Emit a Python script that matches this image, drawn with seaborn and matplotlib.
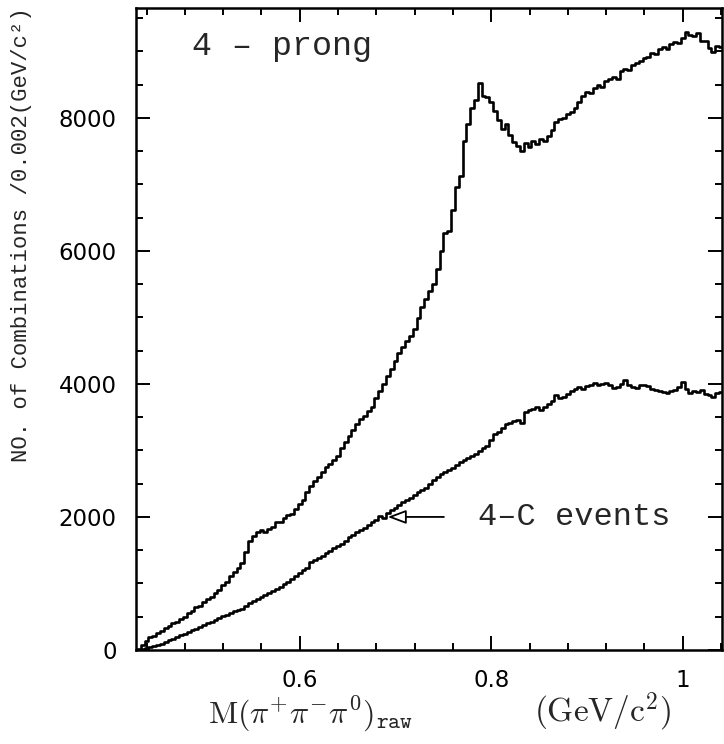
import numpy as np
import pandas as pd
import seaborn as sns
import matplotlib
matplotlib.use("Agg")
import matplotlib.pyplot as plt
from matplotlib.ticker import MultipleLocator

# Histogram contents (bins of 0.004 GeV starting at 0.430)
bin_start = 0.430
bin_width = 0.004

prong4 = [
    20, 80, 140, 190, 210, 260, 290, 330, 360, 400,
    420, 470, 500, 560, 590, 640, 660, 720, 760, 790,
    860, 900, 970, 1020, 1110, 1170, 1240, 1310, 1480, 1640,
    1720, 1770, 1800, 1770, 1820, 1850, 1930, 1920, 1990, 2030,
    2050, 2120, 2200, 2260, 2380, 2470, 2540, 2600, 2680, 2750,
    2790, 2860, 2920, 3040, 3130, 3210, 3300, 3400, 3470, 3510,
    3590, 3650, 3790, 3900, 4000, 4120, 4230, 4350, 4460, 4560,
    4640, 4720, 4830, 4990, 5150, 5280, 5390, 5500, 5720, 6000,
    6270, 6300, 6620, 6960, 7120, 7650, 7900, 8150, 8260, 8530,
    8330, 8310, 8230, 8100, 7960, 7830, 7900, 7740, 7640, 7580,
    7500, 7620, 7560, 7650, 7600, 7680, 7650, 7720, 7820, 7930,
    7980, 8000, 8050, 8090, 8150, 8240, 8330, 8390, 8370, 8440,
    8500, 8470, 8560, 8590, 8620, 8580, 8700, 8740, 8720, 8790,
    8820, 8850, 8900, 8920, 8980, 8960, 9030, 9060, 9040, 9110,
    9140, 9120, 9200, 9290, 9250, 9230, 9270, 9150, 9160, 9050,
    8990, 9080, 9060, 9000,
]

events_4c = [
    5, 15, 25, 40, 55, 70, 90, 120, 150, 170,
    200, 220, 240, 270, 300, 320, 350, 370, 400, 420,
    450, 480, 510, 530, 560, 580, 600, 620, 660, 700,
    730, 760, 790, 820, 850, 890, 920, 950, 990, 1020,
    1060, 1110, 1150, 1200, 1240, 1320, 1350, 1390, 1420, 1460,
    1490, 1530, 1560, 1600, 1640, 1700, 1730, 1770, 1800, 1830,
    1880, 1930, 1960, 2010, 1990, 2060, 2100, 2140, 2180, 2220,
    2260, 2290, 2330, 2370, 2410, 2440, 2500, 2560, 2600, 2640,
    2680, 2710, 2740, 2780, 2820, 2850, 2890, 2920, 2950, 2990,
    3030, 3060, 3150, 3250, 3280, 3330, 3390, 3410, 3440, 3460,
    3410, 3580, 3610, 3630, 3650, 3600, 3660, 3700, 3750, 3830,
    3790, 3810, 3850, 3900, 3930, 3950, 3920, 3970, 3990, 4010,
    3980, 4000, 4020, 3990, 3940, 3960, 4000, 4060, 3980, 3950,
    3940, 3980, 3990, 3970, 3930, 3910, 3900, 3880, 3870, 3900,
    3910, 3950, 4030, 3920, 3870, 3900, 3880, 3910, 3850, 3830,
    3800, 3860, 3880, 3850,
]

x_ticks = [0.6, 0.8, 1.0]
x_tick_labels = ["0.6", "0.8", "1"]
y_ticks = [0, 2000, 4000, 6000, 8000]

sns.set_theme(style="ticks")
plt.rcParams["font.family"] = ["DejaVu Sans"]
plt.rcParams["mathtext.fontset"] = "cm"

n_bins = len(prong4)
bin_end = bin_start + bin_width * n_bins
centers = bin_start + bin_width * (np.arange(n_bins) + 0.5)

fig = plt.figure(figsize=(7.24, 7.44), dpi=100)
ax = fig.add_axes([136 / 724, 1 - 650 / 744, 586 / 724, 642 / 744])

for counts in (prong4, events_4c):
    df = pd.DataFrame({"mass": centers, "n": np.asarray(counts, dtype=float)})
    sns.histplot(data=df, x="mass", weights="n", binwidth=bin_width,
                 binrange=(bin_start, bin_end), element="step",
                 fill=False, color="black", linewidth=1.9, ax=ax)

ax.set_xlim(0.429, 1.041)
ax.set_ylim(0, 9650)
ax.set_xlabel("")
ax.set_ylabel("")

ax.set_xticks(x_ticks)
ax.set_xticklabels(x_tick_labels)
ax.set_yticks(y_ticks)
ax.xaxis.set_minor_locator(MultipleLocator(0.04))
ax.yaxis.set_minor_locator(MultipleLocator(500))
ax.tick_params(which="both", direction="in", top=True, right=True,
               width=1.4, colors="black")
ax.tick_params(which="major", length=10, pad=14)
ax.tick_params(which="minor", length=5)
for lab in ax.get_xticklabels() + ax.get_yticklabels():
    lab.set_fontsize(16.5)
for s in ax.spines.values():
    s.set_linewidth(1.8)
    s.set_color("black")

# annotations
ax.text(0.488, 9070, "4 \u2013 prong", family="Liberation Mono",
        fontsize=24, va="center", ha="left")
ax.text(0.786, 2000, "4\u2013C events", family="Liberation Mono",
        fontsize=23, va="center", ha="left")
ax.annotate("", xy=(0.689, 2000), xytext=(0.7535, 2000),
            arrowprops=dict(arrowstyle="-|>,head_length=0.8,head_width=0.3",
                            mutation_scale=14, facecolor="white",
                            edgecolor="black", lw=1.3))

fig.text(22 / 724, 1 - 235 / 744, "NO. of Combinations /0.002(GeV/c\u00b2)",
         family="Liberation Mono", fontsize=16, rotation=90,
         ha="center", va="center")
fig.text(310 / 724, 1 - 714 / 744,
         r"$\mathrm{M}(\pi^{+}\pi^{-}\pi^{0})_{\mathtt{raw}}$",
         fontsize=23, ha="center", va="center")
fig.text(603 / 724, 1 - 712 / 744, r"$(\mathrm{GeV}/\mathrm{c}^{2})$",
         fontsize=24, ha="center", va="center")

fig.savefig("out.png", dpi=100)
